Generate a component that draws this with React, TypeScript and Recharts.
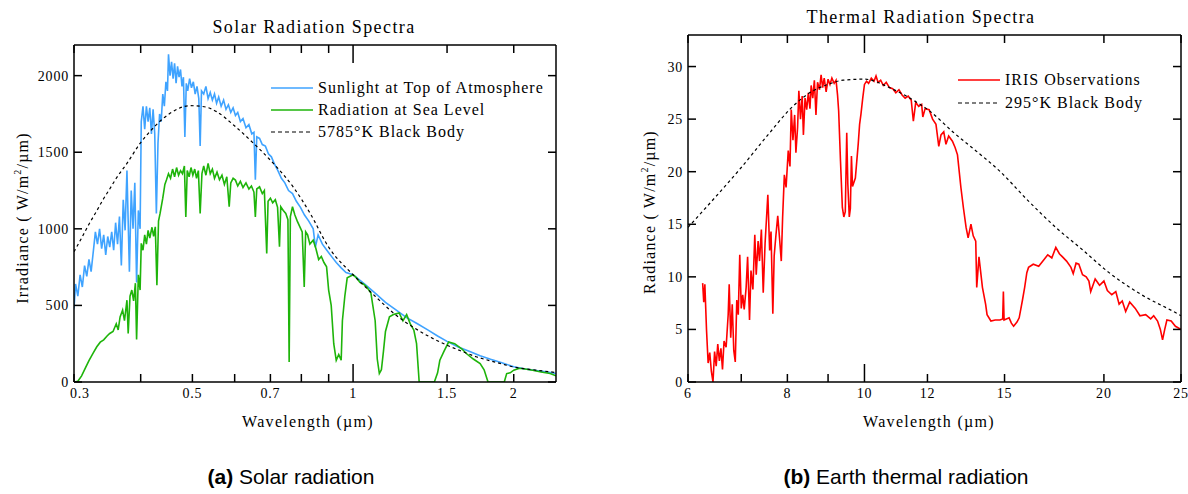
import React from "react";
import { Line, LineChart, XAxis, YAxis } from "recharts";

// ---- Solar radiation (left panel) ----
const toaWavelength = [
  0.3, 0.302, 0.305, 0.308, 0.311, 0.314, 0.317, 0.32, 0.323, 0.326, 0.329, 0.332, 0.335, 0.338, 0.341, 0.344,
  0.347, 0.35, 0.353, 0.356, 0.359, 0.362, 0.365, 0.368, 0.371, 0.374, 0.377, 0.379, 0.381, 0.384, 0.387, 0.39,
  0.393, 0.396, 0.399, 0.401, 0.404, 0.407, 0.41, 0.413, 0.416, 0.419, 0.422, 0.425, 0.428, 0.431, 0.434, 0.437,
  0.44, 0.443, 0.446, 0.449, 0.451, 0.454, 0.457, 0.46, 0.463, 0.466, 0.469, 0.472, 0.475, 0.478, 0.481, 0.484,
  0.487, 0.49, 0.494, 0.498, 0.502, 0.506, 0.51, 0.514, 0.517, 0.52, 0.525, 0.53, 0.535, 0.54, 0.545, 0.55,
  0.555, 0.56, 0.566, 0.572, 0.578, 0.584, 0.59, 0.596, 0.602, 0.608, 0.615, 0.622, 0.63, 0.638, 0.646, 0.652,
  0.656, 0.66, 0.668, 0.676, 0.685, 0.694, 0.703, 0.713, 0.723, 0.734, 0.745, 0.757, 0.77, 0.783, 0.797, 0.811,
  0.826, 0.842, 0.85, 0.86, 0.876, 0.893, 0.911, 0.93, 0.95, 0.97, 1.0, 1.05, 1.1, 1.15, 1.205, 1.26, 1.32, 1.38,
  1.44, 1.5, 1.57, 1.65, 1.73, 1.81, 1.9, 2.0, 2.1, 2.2, 2.3, 2.4
];
const toaIrradiance = [
  480, 640, 560, 700, 620, 760, 690, 800, 720, 850, 980, 900, 1000, 870, 960, 830,
  950, 880, 980, 860, 1040, 900, 1080, 760, 1190, 990, 1380, 1050, 720, 1250, 1000, 1300,
  650, 1120, 1000, 1700, 1800, 1650, 1800, 1700, 1790, 1620, 1780, 1620, 1100, 1560, 1750, 1700,
  1880, 1800, 1960, 1900, 2140, 2000, 2090, 1980, 2080, 1950, 2060, 1990, 2040, 1930, 1990, 1600,
  1950, 1900, 1980, 1920, 1960, 1880, 1930, 1850, 1540, 1900, 1880, 1930, 1850, 1890, 1840, 1880,
  1820, 1860, 1800, 1840, 1780, 1810, 1760, 1790, 1740, 1760, 1700, 1720, 1660, 1680, 1620, 1630,
  1320, 1600, 1590, 1550, 1540, 1490, 1470, 1420, 1380, 1330, 1300, 1250, 1230, 1180, 1140, 1090,
  1050, 1000, 880, 960, 900, 860, 820, 780, 745, 715, 700, 640, 580, 520, 469, 420, 380, 340,
  300, 265, 230, 200, 172, 148, 125, 100, 85, 75, 66, 55
];

const seaWavelength = [
  0.3, 0.305, 0.31, 0.315, 0.32, 0.326, 0.331, 0.336, 0.341, 0.346, 0.35, 0.355, 0.36, 0.363, 0.366, 0.37,
  0.373, 0.377, 0.379, 0.382, 0.385, 0.388, 0.391, 0.393, 0.396, 0.399, 0.401, 0.404, 0.407, 0.41, 0.413, 0.416,
  0.42, 0.423, 0.426, 0.429, 0.432, 0.435, 0.44, 0.444, 0.447, 0.451, 0.455, 0.459, 0.463, 0.467, 0.471, 0.475,
  0.479, 0.483, 0.486, 0.489, 0.493, 0.497, 0.501, 0.505, 0.509, 0.513, 0.517, 0.521, 0.525, 0.53, 0.535, 0.54,
  0.545, 0.55, 0.556, 0.562, 0.568, 0.574, 0.58, 0.586, 0.59, 0.596, 0.602, 0.608, 0.615, 0.622, 0.63, 0.638,
  0.645, 0.652, 0.656, 0.66, 0.668, 0.676, 0.682, 0.689, 0.693, 0.7, 0.707, 0.715, 0.722, 0.728, 0.732, 0.74,
  0.748, 0.755, 0.759, 0.763, 0.77, 0.778, 0.786, 0.795, 0.803, 0.81, 0.815, 0.822, 0.83, 0.842, 0.852, 0.862,
  0.872, 0.882, 0.892, 0.9, 0.91, 0.92, 0.93, 0.94, 0.95, 0.955, 0.965, 0.975, 1.0, 1.015, 1.03, 1.045,
  1.06, 1.08, 1.1, 1.11, 1.12, 1.13, 1.14, 1.15, 1.17, 1.19, 1.22, 1.24, 1.26, 1.28, 1.3, 1.315,
  1.33, 1.38, 1.42, 1.44, 1.454, 1.48, 1.51, 1.55, 1.6, 1.63, 1.68, 1.73, 1.76, 1.79, 1.85, 1.92,
  1.94, 1.97, 2.0, 2.05, 2.1, 2.17, 2.25, 2.34, 2.4
];
const seaIrradiance = [
  0, 5, 40, 90, 140, 190, 230, 260, 275, 300, 317, 330, 380, 340, 425, 470,
  400, 534, 317, 560, 600, 530, 645, 278, 700, 600, 905, 860, 960, 900, 990, 940,
  1010, 950, 1013, 632, 1050, 1102, 1200, 1290, 1318, 1360, 1330, 1390, 1340, 1400, 1350, 1380,
  1360, 1410, 1078, 1380, 1340, 1400, 1350, 1390, 1330, 1380, 1100, 1360, 1410, 1350, 1427, 1360,
  1390, 1330, 1370, 1320, 1350, 1290, 1340, 1144, 1300, 1330, 1318, 1280, 1310, 1270, 1300, 1260,
  1280, 1240, 1078, 1260, 1274, 1230, 1250, 839, 1180, 1200, 1170, 1190, 1140, 883, 1144, 1120,
  1100, 1060, 131, 1080, 1144, 1090, 1050, 1013, 980, 621, 980, 960, 900, 926, 870, 800,
  820, 780, 752, 600, 500, 250, 142, 180, 142, 400, 560, 680, 700, 680, 650, 640,
  621, 580, 400, 150, 55, 80, 200, 330, 425, 440, 451, 400, 440, 380, 338, 250,
  0, 0, 0, 60, 142, 200, 261, 250, 215, 186, 150, 120, 80, 0, 0, 0,
  55, 60, 77, 90, 85, 77, 65, 55, 40
];

const sunBodyWavelength = [
  0.3, 0.31, 0.32, 0.33, 0.34, 0.35, 0.36, 0.377, 0.399, 0.42, 0.454, 0.495, 0.53, 0.555, 0.597, 0.651,
  0.709, 0.772, 0.831, 0.9, 1.0, 1.1, 1.2, 1.3, 1.4, 1.5, 1.6, 1.7, 1.8, 1.9, 2.0, 2.2, 2.4
];
const sunBodyIrradiance = [
  850, 940, 1030, 1110, 1190, 1260, 1330, 1427, 1558, 1650, 1754, 1804, 1795, 1765, 1678, 1558,
  1427, 1274, 1101, 880, 700, 560, 440, 355, 290, 240, 200, 165, 140, 118, 98, 78, 62
];

const solarTicks = [0.3, 0.4, 0.5, 0.6, 0.7, 0.8, 0.9, 1, 1.5, 2];
const solarLabeled = [0.3, 0.5, 0.7, 1, 1.5, 2];
const irradianceTicks = [0, 500, 1000, 1500, 2000];

// ---- Earth thermal radiation (right panel) ----
const irisWavelength = [
  6.26, 6.28, 6.3, 6.33, 6.36, 6.39, 6.42, 6.45, 6.48, 6.51, 6.54, 6.57, 6.6, 6.63, 6.66, 6.7,
  6.74, 6.76, 6.79, 6.82, 6.85, 6.88, 6.91, 6.94, 6.97, 7.0, 7.03, 7.06, 7.1, 7.13, 7.17, 7.2,
  7.24, 7.28, 7.31, 7.35, 7.38, 7.42, 7.46, 7.5, 7.53, 7.56, 7.6, 7.63, 7.67, 7.7, 7.74, 7.78,
  7.82, 7.86, 7.89, 7.93, 7.97, 8.02, 8.06, 8.09, 8.13, 8.17, 8.2, 8.24, 8.27, 8.31, 8.35, 8.38,
  8.42, 8.46, 8.5, 8.54, 8.57, 8.61, 8.65, 8.69, 8.73, 8.78, 8.82, 8.86, 8.9, 8.95, 9.0, 9.05,
  9.1, 9.16, 9.21, 9.25, 9.28, 9.33, 9.38, 9.42, 9.46, 9.5, 9.53, 9.57, 9.6, 9.63, 9.66, 9.7,
  9.74, 9.78, 9.82, 9.86, 9.9, 9.95, 10.0, 10.06, 10.12, 10.2, 10.28, 10.34, 10.4, 10.48, 10.56, 10.65,
  10.75, 10.85, 10.95, 11.05, 11.15, 11.25, 11.35, 11.45, 11.52, 11.6, 11.7, 11.8, 11.84, 11.92, 12.06, 12.18,
  12.3, 12.4, 12.48, 12.58, 12.66, 12.76, 12.9, 13.0, 13.09, 13.22, 13.32, 13.42, 13.5, 13.61, 13.7, 13.8,
  13.84, 13.93, 14.07, 14.2, 14.26, 14.42, 14.6, 14.8, 14.92, 14.95, 14.98, 15.2, 15.3, 15.4, 15.55, 15.65,
  15.8, 15.9, 16.0, 16.08, 16.3, 16.56, 16.8, 17.0, 17.2, 17.4, 17.58, 17.74, 17.95, 18.18, 18.3, 18.45,
  18.6, 18.8, 19.0, 19.15, 19.25, 19.5, 19.75, 20.0, 20.2, 20.46, 20.7, 20.9, 21.09, 21.3, 21.55, 21.9,
  22.2, 22.57, 22.9, 23.1, 23.36, 23.55, 23.7, 23.85, 24.0, 24.3, 24.6, 25.0
];
const irisRadiance = [
  9.4, 7.6, 9.3, 5.0, 1.8, 2.8, 1.0, 0.0, 2.9, 1.5, 3.6, 2.0, 3.2, 1.2, 3.9, 3.3,
  6.4, 9.3, 4.2, 7.4, 3.0, 1.9, 7.8, 6.4, 12.1, 7.0, 8.3, 6.9, 9.0, 11.9, 5.9, 10.6,
  8.8, 14.0, 10.2, 13.4, 11.5, 14.5, 8.5, 13.2, 15.5, 17.8, 12.5, 14.3, 6.5, 12.0, 14.0, 15.8,
  13.7, 11.5, 15.6, 19.7, 18.5, 22.0, 20.5, 25.9, 23.0, 25.4, 21.8, 24.2, 27.7, 25.0, 27.2, 23.5,
  27.0, 25.9, 27.5, 26.0, 28.2, 27.0, 28.7, 25.4, 28.5, 27.8, 29.2, 28.0, 28.9, 27.6, 28.8, 28.3,
  28.9, 28.4, 28.7, 27.3, 25.8, 21.0, 16.6, 15.7, 16.2, 23.7, 18.8, 15.7, 16.5, 21.5, 18.6, 19.0,
  19.4, 21.0, 22.6, 24.5, 25.5, 27.0, 28.3, 28.6, 28.4, 28.9, 28.6, 29.1, 28.5, 28.7, 28.2, 28.5,
  28.0, 27.9, 27.5, 27.8, 27.3, 27.0, 27.2, 26.8, 24.8, 26.6, 26.2, 26.4, 25.2, 26.0, 25.9, 25.0,
  24.5, 22.4, 23.5, 23.8, 22.6, 23.4, 22.9, 22.3, 21.6, 18.5, 16.5, 14.7, 13.7, 15.0, 13.9, 13.4,
  9.0, 11.9, 9.0, 7.4, 6.4, 5.8, 5.9, 5.9, 6.0, 8.6, 5.9, 6.1, 5.6, 5.3, 5.7, 6.1,
  7.8, 9.0, 10.4, 10.9, 11.2, 11.0, 11.6, 12.1, 11.8, 12.8, 12.2, 11.9, 11.5, 10.9, 10.3, 11.3,
  11.2, 10.2, 10.0, 9.6, 8.6, 9.8, 9.2, 9.6, 8.7, 8.3, 8.6, 7.4, 7.7, 6.7, 7.6, 7.0,
  6.3, 6.4, 6.0, 6.3, 5.8, 5.0, 4.0, 5.0, 5.9, 5.8, 5.3, 5.0
];

const earthBodyWavelength = [
  6.0, 6.48, 7.0, 7.6, 8.05, 8.53, 9.0, 9.4, 10.0, 10.75, 11.4, 12.06, 13.0, 13.8, 14.77, 16.08,
  17.4, 18.78, 20.3, 22.3, 24.6, 25.0
];
const earthBodyRadiance = [
  14.7, 17.5, 20.4, 23.7, 25.9, 27.5, 28.3, 28.7, 28.8, 28.0, 27.0, 25.8, 23.6, 22.0, 20.1, 17.2,
  14.7, 12.6, 10.4, 8.3, 6.6, 6.3
];

const thermalTicks = [6, 7, 8, 9, 10, 12, 15, 20, 25];
const thermalLabeled = [6, 8, 10, 12, 15, 20, 25];
const radianceTicks = [0, 5, 10, 15, 20, 25, 30];

const toPoints = (xs: number[], ys: number[]) => xs.map((wl, i) => ({ wl, v: ys[i] }));

const serif = "'Liberation Serif', 'Times New Roman', serif";
const sans = "'Liberation Sans', Arial, sans-serif";
const tickFont = 14;

const BottomTick = (props: any) => {
  const { x, y, payload, labeled, longAt, startAt } = props;
  const v = payload.value;
  const len = v === longAt ? 18 : 8;
  const atStart = v === startAt;
  return (
    <g>
      <line x1={x} y1={y} x2={x} y2={y - len} stroke="#000" strokeWidth={1.5} />
      {labeled.includes(v) && (
        <text
          x={atStart ? x - 4 : x}
          y={y + 16}
          textAnchor={atStart ? "start" : "middle"}
          fontSize={tickFont}
          fontFamily={serif}
          letterSpacing={0.8}
          fill="#000">
          {v}
        </text>
      )}
    </g>
  );
};

const TopTick = (props: any) => {
  const { x, y, payload, longAt } = props;
  const len = payload.value === longAt ? 18 : 8;
  return <line x1={x} y1={y} x2={x} y2={y + len} stroke="#000" strokeWidth={1.5} />;
};

const LeftTick = (props: any) => {
  const { x, y, payload } = props;
  return (
    <g>
      <line x1={x} y1={y} x2={x + 8} y2={y} stroke="#000" strokeWidth={1.5} />
      <text x={x - 5} y={y + 5} textAnchor="end" fontSize={tickFont} fontFamily={serif} letterSpacing={0.8} fill="#000">
        {payload.value}
      </text>
    </g>
  );
};

const RightTick = (props: any) => {
  const { x, y } = props;
  return <line x1={x} y1={y} x2={x - 8} y2={y} stroke="#000" strokeWidth={1.5} />;
};

const axisLine = { stroke: "#000", strokeWidth: 1.5 };

const text = (style: React.CSSProperties): React.CSSProperties => ({
  position: "absolute",
  fontFamily: serif,
  color: "#000",
  whiteSpace: "nowrap",
  lineHeight: 1,
  ...style
});

const LegendRow = ({ color, dashed, label, top, left }: any) => (
  <div style={text({ top, left, fontSize: 16, letterSpacing: 1, display: "flex", alignItems: "center" })}>
    <svg width={42} height={4} style={{ marginRight: 5 }}>
      <line x1={0} y1={2} x2={42} y2={2} stroke={color} strokeWidth={dashed ? 1.2 : 1.5} strokeDasharray={dashed ? "4 3" : undefined} />
    </svg>
    {label}
  </div>
);

export default function App() {
  const toa = toPoints(toaWavelength, toaIrradiance);
  const sea = toPoints(seaWavelength, seaIrradiance);
  const sunBody = toPoints(sunBodyWavelength, sunBodyIrradiance);
  const iris = toPoints(irisWavelength, irisRadiance);
  const earthBody = toPoints(earthBodyWavelength, earthBodyRadiance);

  return (
    <div style={{ position: "absolute", left: 0, top: 0, width: 1188, height: 494, background: "#fff", overflow: "hidden" }}>
      {/* left panel */}
      <div style={text({ top: 18, left: 314, fontSize: 18, transform: "translateX(-50%)", letterSpacing: 1.4 })}>
        Solar Radiation Spectra
      </div>
      <div style={{ position: "absolute", left: 0, top: 0 }}>
        <LineChart width={580} height={440} margin={{ top: 44, right: 23, bottom: 57, left: 0 }} style={{ overflow: "visible" }}>
          <XAxis
            xAxisId="b"
            dataKey="wl"
            type="number"
            scale="log"
            domain={[0.3, 2.4]}
            allowDataOverflow
            ticks={solarTicks}
            interval={0}
            height={1}
            tickSize={0}
            tickMargin={0}
            tickLine={false}
            axisLine={axisLine}
            tick={(p: any) => <BottomTick {...p} labeled={solarLabeled} longAt={1} startAt={0.3} />}
          />
          <XAxis
            xAxisId="t"
            orientation="top"
            dataKey="wl"
            type="number"
            scale="log"
            domain={[0.3, 2.4]}
            allowDataOverflow
            ticks={solarTicks}
            interval={0}
            height={1}
            tickSize={0}
            tickMargin={0}
            tickLine={false}
            axisLine={axisLine}
            tick={(p: any) => <TopTick {...p} longAt={1} />}
          />
          <YAxis
            yAxisId="l"
            type="number"
            domain={[0, 2200]}
            allowDataOverflow
            ticks={irradianceTicks}
            interval={0}
            width={74}
            tickSize={0}
            tickMargin={0}
            tickLine={false}
            axisLine={axisLine}
            tick={(p: any) => <LeftTick {...p} />}
          />
          <YAxis
            yAxisId="r"
            orientation="right"
            type="number"
            domain={[0, 2200]}
            allowDataOverflow
            ticks={irradianceTicks}
            interval={0}
            width={1}
            tickSize={0}
            tickMargin={0}
            tickLine={false}
            axisLine={axisLine}
            tick={(p: any) => <RightTick {...p} />}
          />
          <Line xAxisId="b" yAxisId="l" data={toa} dataKey="v" type="linear" stroke="#3fa3ff" strokeWidth={1.6} dot={false} isAnimationActive={false} />
          <Line xAxisId="b" yAxisId="l" data={sea} dataKey="v" type="linear" stroke="#1eb40a" strokeWidth={1.6} dot={false} isAnimationActive={false} />
          <Line xAxisId="b" yAxisId="l" data={sunBody} dataKey="v" type="monotone" stroke="#000" strokeWidth={1.2} strokeDasharray="3 3" dot={false} isAnimationActive={false} />
        </LineChart>
      </div>
      <LegendRow color="#3fa3ff" label="Sunlight at Top of Atmosphere" top={80} left={271} />
      <LegendRow color="#1eb40a" label="Radiation at Sea Level" top={102} left={271} />
      <LegendRow color="#000" dashed label="5785°K Black Body" top={124} left={271} />
      <div style={text({ top: 218, left: 22, fontSize: 16, letterSpacing: 1.2, transform: "translate(-50%, -50%) rotate(-90deg)" })}>
        Irradiance ( W/m<sup style={{ fontSize: 10 }}>2</sup>/µm)
      </div>
      <div style={text({ top: 414, left: 308, fontSize: 16, letterSpacing: 1.3, transform: "translateX(-50%)" })}>
        Wavelength (µm)
      </div>

      {/* right panel */}
      <div style={text({ top: 8, left: 921, fontSize: 18, transform: "translateX(-50%)", letterSpacing: 1.4 })}>
        Thermal Radiation Spectra
      </div>
      <div style={{ position: "absolute", left: 600, top: 0 }}>
        <LineChart width={588} height={440} margin={{ top: 34, right: 6, bottom: 57, left: 0 }} style={{ overflow: "visible" }}>
          <XAxis
            xAxisId="b"
            dataKey="wl"
            type="number"
            scale="log"
            domain={[6, 25]}
            allowDataOverflow
            ticks={thermalTicks}
            interval={0}
            height={1}
            tickSize={0}
            tickMargin={0}
            tickLine={false}
            axisLine={axisLine}
            tick={(p: any) => <BottomTick {...p} labeled={thermalLabeled} longAt={10} />}
          />
          <XAxis
            xAxisId="t"
            orientation="top"
            dataKey="wl"
            type="number"
            scale="log"
            domain={[6, 25]}
            allowDataOverflow
            ticks={thermalTicks}
            interval={0}
            height={1}
            tickSize={0}
            tickMargin={0}
            tickLine={false}
            axisLine={axisLine}
            tick={(p: any) => <TopTick {...p} longAt={10} />}
          />
          <YAxis
            yAxisId="l"
            type="number"
            domain={[0, 33]}
            allowDataOverflow
            ticks={radianceTicks}
            interval={0}
            width={88}
            tickSize={0}
            tickMargin={0}
            tickLine={false}
            axisLine={axisLine}
            tick={(p: any) => <LeftTick {...p} />}
          />
          <YAxis
            yAxisId="r"
            orientation="right"
            type="number"
            domain={[0, 33]}
            allowDataOverflow
            ticks={radianceTicks}
            interval={0}
            width={1}
            tickSize={0}
            tickMargin={0}
            tickLine={false}
            axisLine={axisLine}
            tick={(p: any) => <RightTick {...p} />}
          />
          <Line xAxisId="b" yAxisId="l" data={iris} dataKey="v" type="linear" stroke="#ff0000" strokeWidth={1.6} dot={false} isAnimationActive={false} />
          <Line xAxisId="b" yAxisId="l" data={earthBody} dataKey="v" type="monotone" stroke="#000" strokeWidth={1.2} strokeDasharray="3 3" dot={false} isAnimationActive={false} />
        </LineChart>
      </div>
      <LegendRow color="#ff0000" label="IRIS Observations" top={72} left={958} />
      <LegendRow color="#000" dashed label="295°K Black Body" top={95} left={958} />
      <div style={text({ top: 212, left: 649, fontSize: 16, letterSpacing: 1.2, transform: "translate(-50%, -50%) rotate(-90deg)" })}>
        Radiance ( W/m<sup style={{ fontSize: 10 }}>2</sup>/µm)
      </div>
      <div style={text({ top: 414, left: 929, fontSize: 16, letterSpacing: 1.3, transform: "translateX(-50%)" })}>
        Wavelength (µm)
      </div>

      {/* captions */}
      <div style={{ ...text({ top: 466, left: 291, fontSize: 21, transform: "translateX(-50%)" }), fontFamily: sans }}>
        <b>(a)</b> Solar radiation
      </div>
      <div style={{ ...text({ top: 466, left: 906, fontSize: 21, transform: "translateX(-50%)" }), fontFamily: sans }}>
        <b>(b)</b> Earth thermal radiation
      </div>
    </div>
  );
}
